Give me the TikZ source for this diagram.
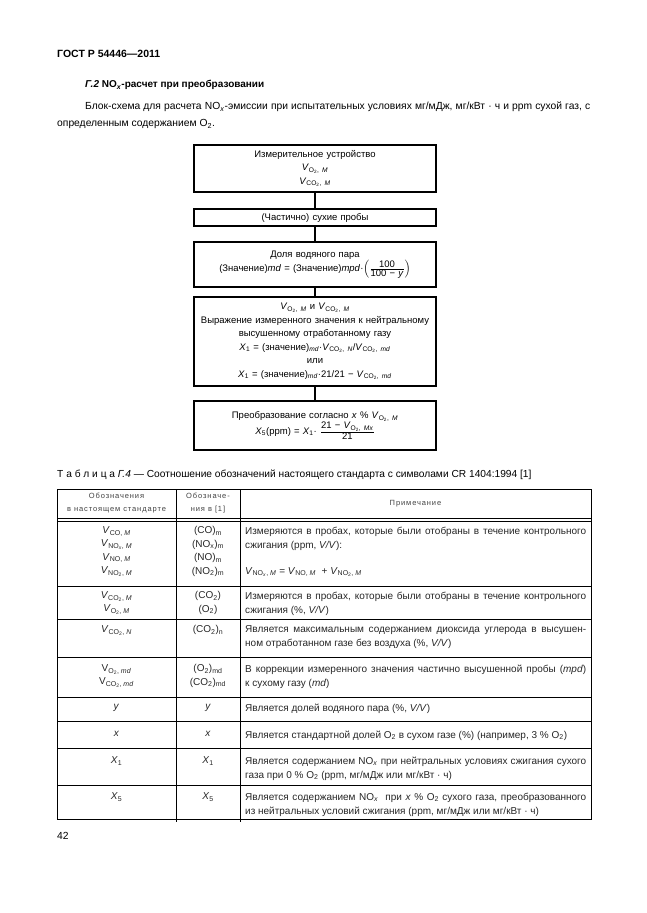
\documentclass[tikz,border=0pt]{standalone}
\usepackage{fontspec}
\setmainfont{Liberation Sans}
\newfontfamily\spacedfont[LetterSpace=12]{Liberation Sans}
\usetikzlibrary{positioning}

\newcommand{\Vs}[1]{\textit{V}\textsubscript{#1}}
\newcommand{\Xs}[1]{\textit{X}\textsubscript{#1}}
\newcommand{\sbtwo}{\textsubscript{2}}
\newcommand{\fullline}[1]{\makebox[341pt][s]{#1}}

\begin{document}
\begin{tikzpicture}[x=1pt,y=-1pt,
  flowbox/.style={draw, line width=1.2pt, minimum width=242pt, text width=236pt,
    align=center, inner sep=2pt, font=\fontsize{9.5}{13.5}\selectfont},
  cellc/.style={anchor=north, align=center, inner sep=0pt, text=black!85,
    font=\fontsize{10}{13.4}\selectfont},
  notec/.style={anchor=north west, align=left, inner sep=0pt, text=black!85,
    font=\fontsize{10}{14}\selectfont},
  headc/.style={align=center, inner sep=0pt, text=black!75,
    font=\spacedfont\fontsize{7.5}{13}\selectfont},
  linetext/.style={anchor=west, inner sep=0pt, font=\fontsize{10.3}{12}\selectfont}]
  \useasboundingbox (0,0) rectangle (646,913);

  % Page head and text.
  \node[linetext, font=\bfseries\fontsize{10.5}{12}\selectfont] (gost) at (57,54) {ГОСТ Р 54446—2011};
  \node[linetext, font=\bfseries\fontsize{10}{12}\selectfont] (sect) at (85,85)
    {\textit{Г.2} NO\textsubscript{\textit{x}}-расчет при преобразовании};
  \node[linetext] (par1) at (85,107) {\makebox[505pt][s]{Блок-схема для расчета
    NO\textsubscript{\textit{x}}-эмиссии при испытательных условиях мг/мДж, мг/кВт · ч и ppm сухой газ, с}};
  \node[linetext] (par2) at (57,124) {определенным содержанием O\sbtwo.};

  % Flow chart.
  \node[flowbox, minimum height=47pt] (meas) at (315,168.5)
    {Измерительное устройство\\ \Vs{O\sbtwo, \textit{M}}\\ \Vs{CO\sbtwo, \textit{M}}};
  \node[flowbox, minimum height=17pt] (dry) at (315,217.5) {(Частично) сухие пробы};
  \node[flowbox, minimum height=45pt] (vapour) at (315,264.5)
    {Доля водяного пара\\ (Значение)\textit{md} = (Значение)\textit{mpd}·%
     $\left(\frac{\mbox{100}}{\mbox{100 − \textit{y}}}\right)$};
  \node[flowbox, minimum height=89pt] (neutral) at (315,341.5)
    {\Vs{O\sbtwo, \textit{M}} и \Vs{CO\sbtwo, \textit{M}}\\
     Выражение измеренного значения к нейтральному\\
     высушенному отработанному газу\\
     \Xs{1} = (значение)\textsubscript{\textit{md}}·\Vs{CO\sbtwo, \textit{N}}/\Vs{CO\sbtwo, \textit{md}}\\
     или\\
     \Xs{1} = (значение)\textsubscript{\textit{md}}·21/21 − \Vs{CO\sbtwo, \textit{md}}};
  \node[flowbox, minimum height=49pt] (conv) at (315,425.5)
    {Преобразование согласно \textit{x} \% \Vs{O\sbtwo, \textit{M}}\\
     \Xs{5}(ppm) = \Xs{1}· $\frac{\mbox{21 − \Vs{O\sbtwo, \textit{Mx}}}}{\mbox{21}}$};
  \draw[line width=1.2pt] (meas) -- (dry);
  \draw[line width=1.2pt] (dry) -- (vapour);
  \draw[line width=1.2pt] (vapour) -- (neutral);
  \draw[line width=1.2pt] (neutral) -- (conv);

  % Table caption.
  \node[linetext, font=\fontsize{10.2}{12}\selectfont] (capt) at (57,475)
    {Т а б л и ц а \textit{Г.4} — Соотношение обозначений настоящего стандарта с символами CR 1404:1994 [1]};

  % Table rules.
  \draw[line width=0.9pt] (57,489) rectangle (591,819);
  \draw[line width=0.8pt] (176,489) -- (176,822);
  \draw[line width=0.8pt] (240,489) -- (240,822);
  \draw[line width=0.7pt] (57,518) -- (591,518);
  \draw[line width=0.7pt] (57,521) -- (591,521);
  \foreach \y in {586,619,657,697,721,748,785}
    \draw[line width=0.7pt] (57,\y) -- (591,\y);

  % Header.
  \node[headc] (h1) at (116.5,503.5) {Обозначения\\в настоящем стандарте};
  \node[headc] (h2) at (208,503.5) {Обозначе-\\ния в [1]};
  \node[headc] (h3) at (415.5,504) {Примечание};

  % Rows.
  \node[cellc] (r1a) at (116.5,526.5) {\Vs{CO, \textit{M}}\\ \Vs{NO\textsubscript{\textit{x}}, \textit{M}}\\
    \Vs{NO, \textit{M}}\\ \Vs{NO\sbtwo, \textit{M}}};
  \node[cellc] (r1b) at (208,526.5) {(CO)\textsubscript{m}\\ (NO\textsubscript{x})\textsubscript{m}\\
    (NO)\textsubscript{m}\\ (NO\sbtwo)\textsubscript{m}};
  \node[notec] (r1c) at (245,526.5) {\fullline{Измеряются в пробах, которые были отобраны в течение контрольного}\\
    сжигания (ppm, \textit{V/V}):\\[12pt]
    \Vs{NO\textsubscript{\textit{x}}, \textit{M}} = \Vs{NO, \textit{M}} \ + \Vs{NO\sbtwo, \textit{M}}};

  \node[cellc] (r2a) at (116.5,591.5) {\Vs{CO\sbtwo, \textit{M}}\\ \Vs{O\sbtwo, \textit{M}}};
  \node[cellc] (r2b) at (208,591.5) {(CO\sbtwo)\\ (O\sbtwo)};
  \node[notec] (r2c) at (245,591.5) {\fullline{Измеряются в пробах, которые были отобраны в течение контрольного}\\
    сжигания (\%, \textit{V/V})};

  \node[cellc] (r3a) at (116.5,625.5) {\Vs{CO\sbtwo, \textit{N}}};
  \node[cellc] (r3b) at (208,625.5) {(CO\sbtwo)\textsubscript{n}};
  \node[notec] (r3c) at (245,625.5) {\fullline{Является максимальным содержанием диоксида углерода в высушен-}\\
    ном отработанном газе без воздуха (\%, \textit{V/V})};

  \node[cellc] (r4a) at (116.5,664.5) {V\textsubscript{O\sbtwo, \textit{md}}\\ V\textsubscript{CO\sbtwo, \textit{md}}};
  \node[cellc] (r4b) at (208,664.5) {(O\sbtwo)\textsubscript{md}\\ (CO\sbtwo)\textsubscript{md}};
  \node[notec] (r4c) at (245,664.5) {\fullline{В коррекции измеренного значения частично высушенной пробы (\textit{mpd})}\\
    к сухому газу (\textit{md})};

  \node[cellc] (r5a) at (116.5,704) {\textit{y}};
  \node[cellc] (r5b) at (208,704) {\textit{y}};
  \node[notec] (r5c) at (245,703.5) {Является долей водяного пара (\%, \textit{V/V})};

  \node[cellc] (r6a) at (116.5,731) {\textit{x}};
  \node[cellc] (r6b) at (208,731) {\textit{x}};
  \node[notec] (r6c) at (245,730.5) {Является стандартной долей O\sbtwo\ в сухом газе (\%) (например, 3 \% O\sbtwo)};

  \node[cellc] (r7a) at (116.5,756.5) {\Xs{1}};
  \node[cellc] (r7b) at (208,756.5) {\Xs{1}};
  \node[notec] (r7c) at (245,756.5) {\fullline{Является содержанием NO\textsubscript{\textit{x}} при нейтральных условиях сжигания сухого}\\
    газа при 0 \% O\sbtwo\ (ppm, мг/мДж или мг/кВт · ч)};

  \node[cellc] (r8a) at (116.5,792.5) {\Xs{5}};
  \node[cellc] (r8b) at (208,792.5) {\Xs{5}};
  \node[notec] (r8c) at (245,792.5) {\fullline{Является содержанием NO\textsubscript{\textit{x}} \ при \textit{x} \% O\sbtwo\ сухого газа, преобразованного}\\
    из нейтральных условий сжигания (ppm, мг/мДж или мг/кВт · ч)};

  % Page number.
  \node[linetext] (page) at (57,836) {42};
\end{tikzpicture}
\end{document}
